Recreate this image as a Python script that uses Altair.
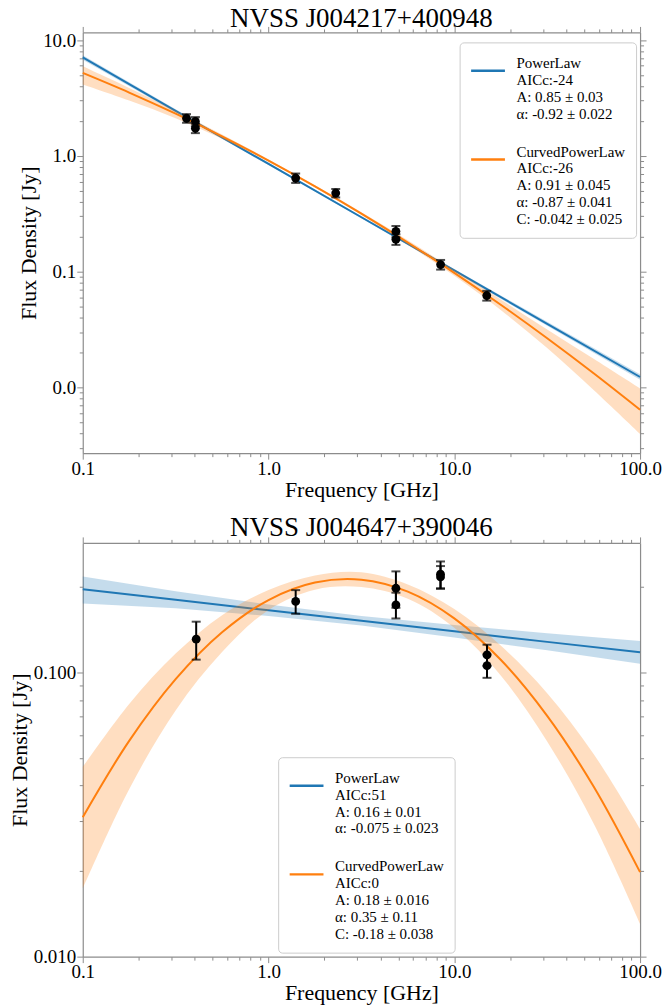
import json
import altair as alt
import pandas as pd

FONT = "Liberation Serif"
BLUE = "#1f77b4"
ORANGE = "#ff7f0e"
GREY = "#8c8c8c"
MODELS = ["PowerLaw", "CurvedPowerLaw"]

PL_GRID = [0.1, 0.3162, 1.0, 3.162, 10.0, 31.62, 100.0]
CPL_GRID = [0.1, 0.1778, 0.3162, 0.5623, 1.0, 1.778, 3.162, 5.623, 10.0, 17.78, 31.62, 56.23, 100.0]

# ---------------- panel 1 ----------------
P1_TITLE = "NVSS J004217+400948"
p1_freq = [0.362, 0.404, 0.404, 1.4, 2.3, 4.85, 4.85, 8.44, 14.95]
p1_flux = [2.11, 1.98, 1.73, 0.643, 0.477, 0.2225, 0.19, 0.115, 0.0621]
p1_err = [0.18, 0.18, 0.16, 0.06, 0.04, 0.025, 0.02, 0.011, 0.006]

p1_pl_mid = [7.07, 2.45, 0.85, 0.2946, 0.1022, 0.0354, 0.01228]
p1_pl_lo = [6.75, 2.372, 0.831, 0.2885, 0.0994, 0.03404, 0.01165]
p1_pl_hi = [7.40, 2.53, 0.870, 0.3008, 0.1051, 0.0368, 0.01295]

p1_cpl_mid = [5.20, 3.52, 2.313, 1.473, 0.910, 0.545, 0.3167, 0.1784, 0.0975, 0.0517, 0.02655, 0.01323, 0.0064]
p1_cpl_lo = [4.13, 3.00, 2.11, 1.407, 0.889, 0.534, 0.3080, 0.1704, 0.0920, 0.0466, 0.02183, 0.00947, 0.00395]
p1_cpl_hi = [5.93, 3.86, 2.45, 1.525, 0.931, 0.556, 0.3256, 0.1868, 0.1033, 0.0573, 0.03155, 0.01764, 0.00978]

P1_LEGEND = {
    "PowerLaw": ["PowerLaw", "AICc:-24", "A: 0.85 ± 0.03", "α: -0.92 ± 0.022"],
    "CurvedPowerLaw": ["CurvedPowerLaw", "AICc:-26", "A: 0.91 ± 0.045",
                       "α: -0.87 ± 0.041", "C: -0.042 ± 0.025"],
}
P1_YDOMAIN = [0.0027, 11.64]
P1_YTICKS = [0.003, 0.004, 0.005, 0.006, 0.007, 0.008, 0.009,
             0.01, 0.02, 0.03, 0.04, 0.05, 0.06, 0.07, 0.08, 0.09,
             0.1, 0.2, 0.3, 0.4, 0.5, 0.6, 0.7, 0.8, 0.9,
             1, 2, 3, 4, 5, 6, 7, 8, 9, 10]

# ---------------- panel 2 ----------------
P2_TITLE = "NVSS J004647+390046"
p2_freq = [0.408, 1.4, 4.85, 4.85, 8.43, 8.43, 15.0, 15.0]
p2_flux = [0.131, 0.178, 0.198, 0.173, 0.222, 0.217, 0.1153, 0.1058]
p2_err = [0.020, 0.017, 0.029, 0.018, 0.024, 0.020, 0.010, 0.010]

p2_pl_mid = [0.1963, 0.1803, 0.1656, 0.1521, 0.1397, 0.1282, 0.1178]
p2_pl_lo = [0.1750, 0.1683, 0.1581, 0.1463, 0.1328, 0.1197, 0.1074]
p2_pl_hi = [0.2177, 0.1932, 0.1734, 0.1582, 0.1470, 0.1374, 0.1292]

p2_cpl_mid = [0.03096, 0.05748, 0.09478, 0.1386, 0.180, 0.2074, 0.2122, 0.1926, 0.1551, 0.1109, 0.0704, 0.0397, 0.01983]
p2_cpl_lo = [0.01737, 0.03886, 0.07357, 0.1180, 0.1661, 0.1958, 0.1999, 0.1818, 0.1437, 0.0977, 0.0572, 0.02943, 0.01307]
p2_cpl_hi = [0.04654, 0.07754, 0.1166, 0.1591, 0.1951, 0.2197, 0.2253, 0.2040, 0.1673, 0.1244, 0.0846, 0.0517, 0.02814]

P2_LEGEND = {
    "PowerLaw": ["PowerLaw", "AICc:51", "A: 0.16 ± 0.01", "α: -0.075 ± 0.023"],
    "CurvedPowerLaw": ["CurvedPowerLaw", "AICc:0", "A: 0.18 ± 0.016",
                       "α: 0.35 ± 0.11", "C: -0.18 ± 0.038"],
}
P2_YDOMAIN = [0.01, 0.286]
P2_YTICKS = [0.01, 0.02, 0.03, 0.04, 0.05, 0.06, 0.07, 0.08, 0.09, 0.1, 0.2]

XTICKS = [0.1, 0.2, 0.3, 0.4, 0.5, 0.6, 0.7, 0.8, 0.9,
          1, 2, 3, 4, 5, 6, 7, 8, 9,
          10, 20, 30, 40, 50, 60, 70, 80, 90, 100]

MAJOR = "abs(log(datum.value)/LN10 - round(log(datum.value)/LN10)) < 0.001"
TICK = {"condition": {"test": MAJOR, "value": 6}, "value": 3.5}


def points_df(f, s, e):
    return pd.DataFrame({"freq": f, "flux": s,
                         "lo": [a - b for a, b in zip(s, e)],
                         "hi": [a + b for a, b in zip(s, e)]})


def model_df(grid, mid, lo, hi, name):
    return pd.DataFrame({"freq": grid, "mid": mid, "lo": lo, "hi": hi, "model": name})


def panel(title, pts, pl, cpl, legend_rows, ydom, yticks, yfmt, w, h, lx, ly, toff):
    xs = alt.Scale(type="log", domain=[0.1, 100])
    ys = alt.Scale(type="log", domain=ydom)
    cs = alt.Scale(domain=MODELS, range=[BLUE, ORANGE])
    lab = (f"datum.label == 'PowerLaw' ? "
           f"{json.dumps(legend_rows['PowerLaw'], ensure_ascii=False)} : "
           f"{json.dumps(legend_rows['CurvedPowerLaw'], ensure_ascii=False)}")
    leg = alt.Legend(title=None, orient="none", legendX=lx, legendY=ly, labelExpr=lab,
                     labelFont=FONT, labelFontSize=15, labelLimit=0, labelColor="black",
                     labelBaseline="bottom",
                     symbolType="stroke", symbolSize=1150, symbolStrokeWidth=2.5,
                     labelOffset=10, rowPadding=19, padding=10, strokeColor="#cccccc",
                     fillColor="white", cornerRadius=4)
    xaxis = alt.Axis(values=XTICKS, title="Frequency [GHz]", tickSize=TICK,
                     labelExpr=f"({MAJOR}) ? format(datum.value, '.1f') : ''",
                     labelOverlap=False, labelFlush=False, labelPadding=0, titlePadding=1)
    yaxis = alt.Axis(values=yticks, title="Flux Density [Jy]", tickSize=TICK,
                     labelExpr=f"({MAJOR}) ? format(datum.value, '{yfmt}') : ''",
                     labelOverlap=False, labelFlush=False, labelPadding=1, titlePadding=2)
    xtop = alt.Axis(values=XTICKS, orient="top", labels=False, title=None, tickSize=TICK)
    yright = alt.Axis(values=yticks, orient="right", labels=False, title=None, tickSize=TICK)

    band_pl = alt.Chart(pl).mark_area(color=BLUE, opacity=0.26).encode(
        x=alt.X("freq:Q", scale=xs, axis=None),
        y=alt.Y("lo:Q", scale=ys, axis=None), y2="hi:Q")
    line_pl = alt.Chart(pl).mark_line(strokeWidth=2).encode(
        x=alt.X("freq:Q", scale=xs, axis=xaxis),
        y=alt.Y("mid:Q", scale=ys, axis=yaxis),
        color=alt.Color("model:N", scale=cs, legend=leg))
    band_cpl = alt.Chart(cpl).mark_area(color=ORANGE, opacity=0.26, interpolate="catmull-rom").encode(
        x=alt.X("freq:Q", scale=xs, axis=None),
        y=alt.Y("lo:Q", scale=ys, axis=None), y2="hi:Q")
    line_cpl = alt.Chart(cpl).mark_line(strokeWidth=2, interpolate="catmull-rom").encode(
        x=alt.X("freq:Q", scale=xs, axis=None),
        y=alt.Y("mid:Q", scale=ys, axis=None),
        color=alt.Color("model:N", scale=cs, legend=leg))
    err = alt.Chart(pts).mark_errorbar(
        ticks={"size": 9, "thickness": 2, "color": "black"},
        rule={"strokeWidth": 2, "color": "black"}, color="black").encode(
        x=alt.X("freq:Q", scale=xs, axis=None),
        y=alt.Y("lo:Q", scale=ys, axis=None), y2="hi:Q")
    dots = alt.Chart(pts).mark_circle(size=78, color="black", opacity=1).encode(
        x=alt.X("freq:Q", scale=xs, axis=None),
        y=alt.Y("flux:Q", scale=ys, axis=None))
    frame = alt.Chart(pts).mark_point(opacity=0).encode(
        x=alt.X("freq:Q", scale=xs, axis=xtop),
        y=alt.Y("flux:Q", scale=ys, axis=yright))
    return alt.layer(band_pl, line_pl, band_cpl, line_cpl, err, dots, frame).resolve_axis(
        x="independent", y="independent").properties(
        width=w, height=h, title=alt.TitleParams(title, offset=toff))


p1 = panel(P1_TITLE, points_df(p1_freq, p1_flux, p1_err),
           model_df(PL_GRID, p1_pl_mid, p1_pl_lo, p1_pl_hi, "PowerLaw"),
           model_df(CPL_GRID, p1_cpl_mid, p1_cpl_lo, p1_cpl_hi, "CurvedPowerLaw"),
           P1_LEGEND, P1_YDOMAIN, P1_YTICKS, ".1f", 559, 422, 378, 10, -7)
p2 = panel(P2_TITLE, points_df(p2_freq, p2_flux, p2_err),
           model_df(PL_GRID, p2_pl_mid, p2_pl_lo, p2_pl_hi, "PowerLaw"),
           model_df(CPL_GRID, p2_cpl_mid, p2_cpl_lo, p2_cpl_hi, "CurvedPowerLaw"),
           P2_LEGEND, P2_YDOMAIN, P2_YTICKS, ".3f", 559, 415, 196, 215, -6)

chart = alt.concat(p1, p2, columns=1, spacing=14).resolve_scale(
    color="independent").resolve_legend(color="independent").properties(
    padding={"left": 8, "top": 3, "right": 0, "bottom": 0}
).configure_axis(
    labelFont=FONT, labelFontSize=19, titleFont=FONT, titleFontSize=22,
    titleFontWeight="normal", labelColor="black", titleColor="black",
    domainColor=GREY, tickColor=GREY, domainWidth=1.2, tickWidth=1, grid=False
).configure_title(
    font=FONT, fontSize=27, fontWeight="normal", color="black",
    baseline="alphabetic"
).configure_view(stroke=None)

chart.save("out.html", embed_options={"renderer": "svg", "actions": False})
